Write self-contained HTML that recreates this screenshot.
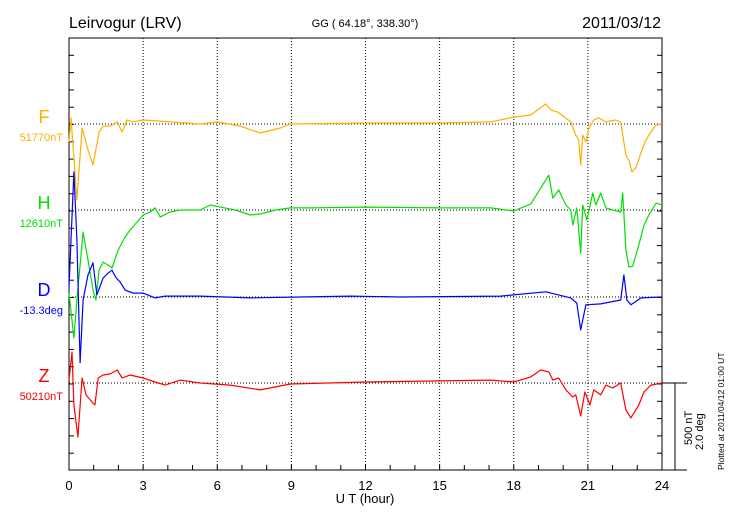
<!DOCTYPE html>
<html><head><meta charset="utf-8"><style>
body{margin:0;background:#fff;}
svg{display:block;font-family:"Liberation Sans",sans-serif;}
</style></head><body>
<svg id="chart" width="730" height="520" viewBox="0 0 730 520">
<rect width="730" height="520" fill="#fff"/>
<text x="69" y="28" font-size="16">Leirvogur (LRV)</text>
<text x="365" y="27" font-size="11" text-anchor="middle">GG ( 64.18°, 338.30°)</text>
<text x="661" y="28" font-size="16" text-anchor="end">2011/03/12</text>
<g id="grid"></g><g id="axes"></g><g id="series"></g><g id="labels"></g>
<text x="365" y="503" font-size="13" text-anchor="middle">U T (hour)</text>
<line x1="662" y1="383" x2="687" y2="383" stroke="#000"/>
<line x1="675" y1="383" x2="675" y2="470" stroke="#000"/>
<text transform="translate(692,445) rotate(-90)" font-size="11">500 nT</text>
<text transform="translate(703,450) rotate(-90)" font-size="11">2.0 deg</text>
<text transform="translate(724,470) rotate(-90)" font-size="8.5">Plotted at 2011/04/12 01:00 UT</text>
</svg>
<script>
const xTicks=[0,3,6,9,12,15,18,21,24];
const fT=[0,0.08,0.32,0.53,0.77,0.97,1.22,1.38,1.66,1.95,2.15,2.35,2.59,3,3.69,5.31,6,6.93,7.74,8.55,8.96,12,15.04,17.07,18,18.69,19.3,19.5,19.78,20.31,20.51,20.63,20.71,20.79,20.92,21.04,21.24,21.44,21.73,22.13,22.33,22.54,22.66,22.78,22.94,23.19,23.35,23.55,23.76,24];
const fV=[-104,35,-439,-23,-150,-237,-46,-12,-12,12,-46,23,12,23,17,0,12,-12,-52,-23,0,6,6,12,40,52,116,81,69,12,-64,-92,-237,-64,-104,-23,23,35,12,23,12,-179,-208,-277,-254,-150,-92,-46,-6,0];
const hT=[0,0.2,0.32,0.57,0.77,0.97,1.09,1.22,1.38,1.58,1.74,1.99,2.27,2.47,2.76,3,3.28,3.49,3.69,4.09,4.5,5.31,5.72,6.12,6.73,7.34,7.74,8.35,8.96,9.77,12,15.04,17.07,18,18.69,19.42,19.58,19.82,20.11,20.31,20.39,20.55,20.71,20.79,20.96,21.2,21.32,21.52,21.73,22.01,22.33,22.41,22.54,22.66,22.82,23.06,23.27,23.47,23.76,24];
const hV=[-480,-740,-520,-127,-289,-462,-520,-347,-301,-318,-335,-231,-156,-116,-69,-29,-12,12,-40,-12,0,0,29,17,0,-29,-23,0,12,12,17,12,12,-6,35,202,69,116,29,0,-87,12,-249,29,-58,98,29,98,12,0,-12,98,-231,-329,-324,-202,-87,-29,40,29];
const dT=[0,0.2,0.32,0.45,0.57,0.77,0.97,1.13,1.38,1.58,1.74,1.91,2.07,2.27,2.59,3,3.49,3.89,5.31,7.34,9.36,11.39,13.42,17.47,19.3,20.31,20.55,20.71,20.92,21.52,22.33,22.46,22.58,22.74,23.15,24];
const dV=[0.23,2.89,1.32,-1.52,-0.07,0.51,0.79,0.05,0.44,0.55,0.62,0.44,0.35,0.16,0.09,0.09,-0.02,0.02,0.02,-0.02,0,0.02,0,0.02,0.12,-0.02,-0.14,-0.76,-0.18,-0.16,-0.07,0.51,-0.07,-0.18,-0.02,0];
const zT=[0,0.12,0.2,0.36,0.53,0.69,0.93,1.05,1.18,1.38,1.66,1.95,2.15,2.47,3,3.49,3.89,4.5,5.31,6.53,7.74,8.96,12,15.04,17.07,18,18.69,19.09,19.42,19.58,19.82,20.11,20.39,20.51,20.71,20.88,21.08,21.24,21.52,21.73,22.01,22.33,22.54,22.74,23.06,23.27,23.55,24];
const zV=[17,179,-127,-312,29,-69,-110,-127,29,46,52,75,29,46,29,6,-12,17,0,-12,-40,-6,6,12,17,6,35,75,64,17,29,-40,-81,-69,-191,-52,-127,-40,-69,-12,-29,0,-156,-202,-127,-52,-12,0];
const NS="http://www.w3.org/2000/svg";
const X0=69,X1=662,Y0=38,Y1=470;
const x=h=>X0+(X1-X0)*h/24;
const NT_PX=86.5/500, DEG_PX=86.5/2;
function mk(tag,attrs,parent){const e=document.createElementNS(NS,tag);for(const k in attrs)e.setAttribute(k,attrs[k]);parent.appendChild(e);return e;}
const grid=document.getElementById('grid'),axes=document.getElementById('axes'),ser=document.getElementById('series'),lab=document.getElementById('labels');
const bases=[124,210,297,383];
xTicks.slice(1,-1).forEach(t=>{const l=mk('line',{x1:x(t),y1:Y0,x2:x(t),y2:Y1,stroke:'#000','stroke-dasharray':'1,2'},grid);

});
bases.forEach(b=>{const l=mk('line',{x1:X0,y1:b,x2:X1,y2:b,stroke:'#000','stroke-dasharray':'1,2'},grid);

});
const fr=mk('rect',{x:X0,y:Y0,width:X1-X0,height:Y1-Y0,fill:'none',stroke:'#000'},axes);


mk('line',{x1:X1,y1:Y1,x2:687,y2:Y1,stroke:'#000'},axes);
for(let i=1;i<25;i++){const y=Y0+i*17.3;if(y>=Y1)break;mk('line',{x1:X0,y1:y,x2:X0+5,y2:y,stroke:'#000'},axes);mk('line',{x1:X1-5,y1:y,x2:X1,y2:y,stroke:'#000'},axes);}
for(let h=1;h<24;h++){mk('line',{x1:x(h),y1:Y1,x2:x(h),y2:Y1-5,stroke:'#000'},axes);}
xTicks.forEach(t=>{const e=mk('text',{x:x(t),y:490,'font-size':13,'text-anchor':'middle'},axes);e.textContent=t;

});
function line(T,V,base,scale,color,name){const d=T.map((t,i)=>(i?'L':'M')+x(t).toFixed(1)+','+(base-V[i]*scale).toFixed(1)).join('');
const p=mk('path',{d:d,fill:'none',stroke:color,'stroke-width':1.2,'stroke-linejoin':'round'},ser);

}
line(fT,fV,124,NT_PX,'#ffb000','f-series');
line(hT,hV,210,NT_PX,'#00e000','h-series');
line(dT,dV,297,DEG_PX,'#0000ff','d-series');
line(zT,zV,383,NT_PX,'#ff0000','z-series');
const L=[['F','51770nT','#ffb000',124],['H','12610nT','#00e000',210],['D','-13.3deg','#0000ff',297],['Z','50210nT','#ff0000',383]];
L.forEach(a=>{const t=mk('text',{x:44,y:a[3]-1,'font-size':18,fill:a[2],'text-anchor':'middle'},lab);t.textContent=a[0];


const v=mk('text',{x:63,y:a[3]+17,'font-size':11,fill:a[2],'text-anchor':'end'},lab);v.textContent=a[1];

});
</script>
</body></html>
